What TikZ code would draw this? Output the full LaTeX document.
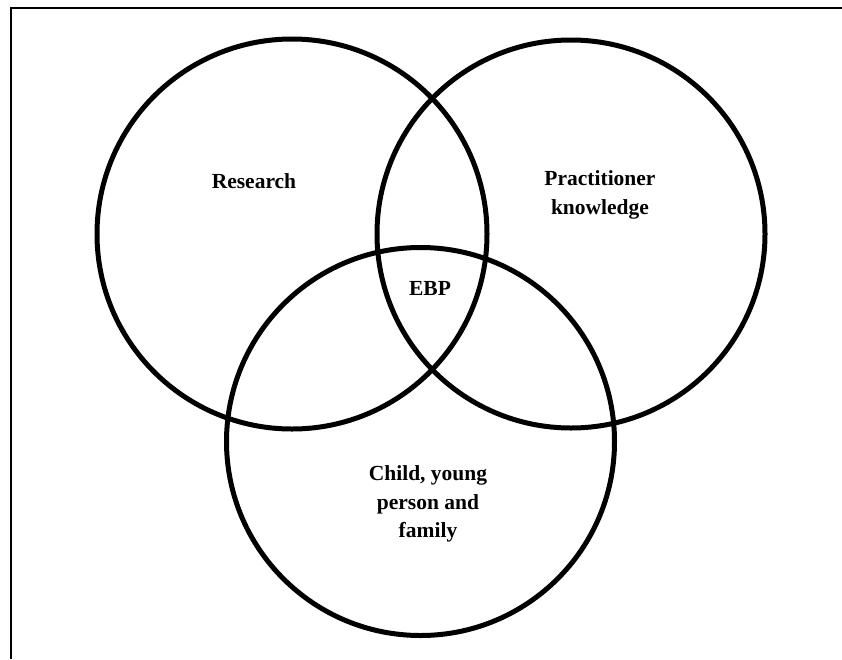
\documentclass[tikz,border=0pt]{standalone}
\usepackage{fontspec}
\setmainfont{Liberation Serif}
\begin{document}
\begin{tikzpicture}[x=1pt,y=-1pt,
  venn/.style={draw=black,line width=5pt,circle,inner sep=0pt},
  lbl/.style={font=\fontsize{21.5}{28.5}\selectfont\bfseries,align=center,inner sep=0pt}]
\useasboundingbox (0,0) rectangle (842,659);
\coordinate (tr) at (842,8);
\coordinate (tl) at (11,8);
\coordinate (bl) at (11,659);
\draw[line width=2.8pt] (tr) -- (tl) -- (bl);
\node[venn,minimum size=390pt] (research) at (292,234) {};
\node[venn,minimum size=388pt] (practice) at (571,234) {};
\node[venn,minimum size=388pt] (child) at (420.5,441.5) {};
\node[lbl] (tR) at (254,181) {Research};
\node[lbl] (tP) at (600,195) {Practitioner\\knowledge};
\node[lbl] (tE) at (430,288) {EBP};
\node[lbl] (tC) at (428,504) {Child, young\\person and\\family};
\end{tikzpicture}
\end{document}
